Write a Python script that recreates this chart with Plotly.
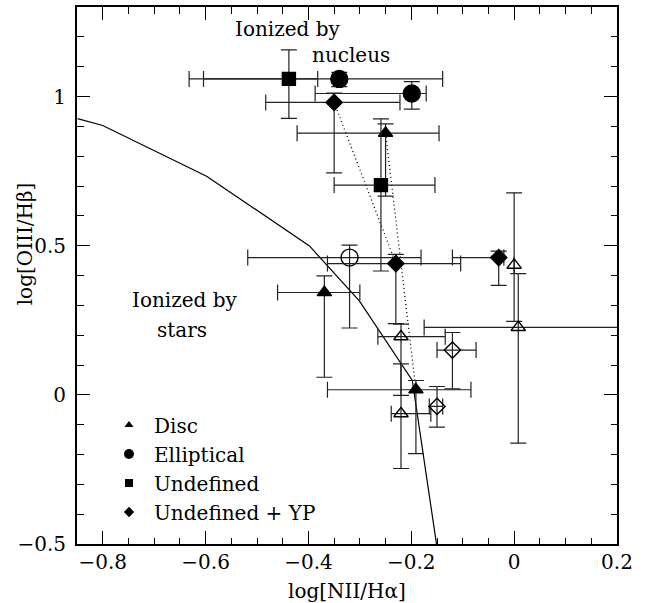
import plotly.graph_objects as go

# ---------------- data ----------------
# Disc, filled triangles
disc_x = [-0.250, -0.191, -0.369]
disc_y = [0.877, 0.017, 0.343]
disc_xlo = [-0.422, -0.363, -0.460]
disc_xhi = [-0.146, -0.084, -0.300]
disc_ylo = [0.666, -0.197, 0.059]
disc_yhi = [0.908, 0.048, 0.399]

# Disc, open triangles
disc2_x = [-0.220, 0.000, 0.008, -0.220]
disc2_y = [0.195, 0.435, 0.226, -0.063]
disc2_xlo = [-0.265, None, -0.175, -0.239]
disc2_xhi = [-0.134, None, 0.350, -0.162]
disc2_ylo = [-0.002, 0.246, -0.162, -0.247]
disc2_yhi = [0.237, 0.677, 0.406, 0.104]

# Elliptical, filled circles
ell_x = [-0.340, -0.199]
ell_y = [1.059, 1.010]
ell_xlo = [-0.604, -0.387]
ell_xhi = [-0.139, -0.171]
ell_ylo = [1.033, 0.958]
ell_yhi = [1.081, 1.050]

# Elliptical, open circle
ell2_x = [-0.320]
ell2_y = [0.460]
ell2_xlo = [-0.518]
ell2_xhi = [-0.181]
ell2_ylo = [0.224]
ell2_yhi = [0.502]

# Undefined, filled squares
und_x = [-0.438, -0.259]
und_y = [1.059, 0.703]
und_xlo = [-0.632, -0.350]
und_xhi = [-0.382, -0.154]
und_ylo = [0.927, 0.415]
und_yhi = [1.156, 0.925]

# Undefined + YP, filled diamonds
yp_x = [-0.350, -0.230, -0.030]
yp_y = [0.980, 0.440, 0.460]
yp_xlo = [-0.483, -0.363, -0.120]
yp_xhi = [-0.222, -0.104, -0.020]
yp_ylo = [0.744, 0.239, 0.367]
yp_yhi = [1.011, 0.471, 0.482]

# Undefined + YP, open diamonds
yp2_x = [-0.120, -0.150]
yp2_y = [0.150, -0.039]
yp2_xlo = [-0.150, -0.165]
yp2_xhi = [-0.074, -0.139]
yp2_ylo = [0.020, -0.108]
yp2_yhi = [0.209, 0.028]

# dotted connections (same objects, two measurements)
link1_x = [-0.350, -0.230]
link1_y = [0.980, 0.440]
link2_x = [-0.250, -0.191]
link2_y = [0.877, 0.017]

# separation curve (stars / nucleus)
curve_x = [-0.849, -0.800, -0.598, -0.398, -0.301, -0.198, -0.151]
curve_y = [0.926, 0.903, 0.733, 0.499, 0.315, 0.048, -0.500]

# legend
legend_names = ["Disc", "Elliptical", "Undefined", "Undefined + YP"]
legend_symbols = ["triangle-up", "circle", "square", "diamond"]

# ---------------- styles ----------------
FONT = "DejaVu Serif"
BAR_COLOR = "#222222"


def plus(c, hi):
    return [None if h is None else h - v for v, h in zip(c, hi)]


def minus(c, lo):
    return [None if l is None else v - l for v, l in zip(c, lo)]


def pts(x, y, xlo, xhi, ylo, yhi, symbol, size, name):
    return go.Scatter(
        x=x, y=y, mode="markers", name=name, showlegend=False,
        marker=dict(symbol=symbol, size=size, color="black",
                    line=dict(color="black", width=1.4)),
        error_x=dict(type="data", symmetric=False, array=plus(x, xhi),
                     arrayminus=minus(x, xlo), width=8, thickness=1.2,
                     color=BAR_COLOR),
        error_y=dict(type="data", symmetric=False, array=plus(y, yhi),
                     arrayminus=minus(y, ylo), width=8, thickness=1.2,
                     color=BAR_COLOR),
        cliponaxis=True,
    )


fig = go.Figure()

fig.add_trace(go.Scatter(x=curve_x, y=curve_y, mode="lines",
                         line=dict(color="black", width=1.2),
                         showlegend=False, hoverinfo="skip"))
for lx, ly in ((link1_x, link1_y), (link2_x, link2_y)):
    fig.add_trace(go.Scatter(x=lx, y=ly, mode="lines",
                             line=dict(color="black", width=1.3,
                                       dash="1px,3px"),
                             showlegend=False, hoverinfo="skip"))

fig.add_trace(pts(disc2_x, disc2_y, disc2_xlo, disc2_xhi, disc2_ylo, disc2_yhi,
                  "triangle-up-open", 12.5, "Disc (open)"))
fig.add_trace(pts(ell2_x, ell2_y, ell2_xlo, ell2_xhi, ell2_ylo, ell2_yhi,
                  "circle-open", 17, "Elliptical (open)"))
fig.add_trace(pts(yp2_x, yp2_y, yp2_xlo, yp2_xhi, yp2_ylo, yp2_yhi,
                  "diamond-open", 12.5, "Undefined + YP (open)"))
fig.add_trace(pts(disc_x, disc_y, disc_xlo, disc_xhi, disc_ylo, disc_yhi,
                  "triangle-up", 12.5, "Disc"))
fig.add_trace(pts(ell_x, ell_y, ell_xlo, ell_xhi, ell_ylo, ell_yhi,
                  "circle", 17, "Elliptical"))
fig.add_trace(pts(und_x, und_y, und_xlo, und_xhi, und_ylo, und_yhi,
                  "square", 13, "Undefined"))
fig.add_trace(pts(yp_x, yp_y, yp_xlo, yp_xhi, yp_ylo, yp_yhi,
                  "diamond", 12.5, "Undefined + YP"))

legend_sizes = [8, 10, 8, 8]
for nm, sym, sz in zip(legend_names, legend_symbols, legend_sizes):
    fig.add_trace(go.Scatter(x=[None], y=[None], mode="markers", name=nm,
                             marker=dict(symbol=sym, size=sz, color="black")))

axis_common = dict(
    showline=True, linecolor="black", linewidth=2, mirror="allticks",
    ticks="inside", ticklen=13, tickwidth=1.3, tickcolor="black",
    showgrid=False, zeroline=False,
    tickfont=dict(family=FONT, size=20, color="black"),
)

fig.update_xaxes(range=[-0.85, 0.2], dtick=0.2, tick0=0,
                 minor=dict(ticks="inside", ticklen=6.5, dtick=0.05, tick0=0,
                            tickcolor="black", tickwidth=1.3, showgrid=False),
                 ticklabelstandoff=-1, **axis_common)
fig.update_yaxes(range=[-0.5, 1.3], dtick=0.5, tick0=0,
                 minor=dict(ticks="inside", ticklen=6.5, dtick=0.1, tick0=0,
                            tickcolor="black", tickwidth=1.3, showgrid=False),
                 ticklabelstandoff=5, **axis_common)

txt = dict(family=FONT, size=20, color="black")
annos = [
    dict(text="Ionized by", x=-0.547, y=1.225, xanchor="left"),
    dict(text="nucleus", x=-0.396, y=1.140, xanchor="left"),
    dict(text="Ionized by", x=-0.746, y=0.318, xanchor="left"),
    dict(text="stars", x=-0.699, y=0.218, xanchor="left"),
]
for a in annos:
    fig.add_annotation(xref="x", yref="y", yanchor="middle", showarrow=False,
                       font=txt, **a)
fig.add_annotation(text="log[OIII/Hβ]", xref="paper", yref="paper",
                   x=-0.0963, y=0.560, textangle=-90, showarrow=False,
                   xanchor="center", yanchor="middle", font=txt)
fig.add_annotation(text="log[NII/Hα]", xref="paper", yref="paper",
                   x=0.5, y=-0.087, showarrow=False,
                   xanchor="center", yanchor="middle", font=txt)

fig.update_layout(
    width=645, height=603,
    margin=dict(l=77, r=28, t=5, b=59),
    paper_bgcolor="white", plot_bgcolor="white",
    font=txt,
    showlegend=True,
    legend=dict(x=0.05, y=0.258, xanchor="left", yanchor="top",
                bgcolor="rgba(0,0,0,0)", borderwidth=0, itemwidth=40,
                font=txt, itemsizing="trace", tracegroupgap=0),
)

fig.write_html("out.html")
